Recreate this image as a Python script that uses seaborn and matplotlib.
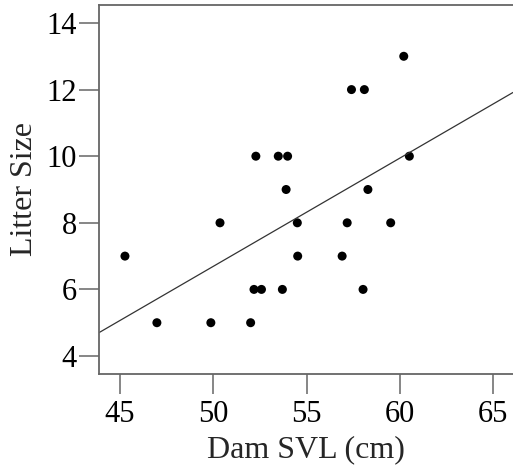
import matplotlib
matplotlib.use("Agg")
import matplotlib.pyplot as plt
import seaborn as sns
import pandas as pd

dam_svl = [45.27, 46.98, 49.87, 50.36, 52.0, 52.18, 52.28, 52.58, 53.48, 53.7,
           53.9, 53.98, 54.5, 54.52, 56.9, 57.17, 57.4, 58.02, 58.09, 58.28,
           59.5, 60.2, 60.5]
litter_size = [7, 5, 5, 8, 5, 6, 10, 6, 10, 6,
               9, 10, 8, 7, 7, 8, 12, 6, 12, 9,
               8, 13, 10]
x_ticks = [45, 50, 55, 60, 65]
y_ticks = [4, 6, 8, 10, 12, 14]

df = pd.DataFrame({"Dam SVL (cm)": dam_svl, "Litter Size": litter_size})

sns.set_style("white")
plt.rcParams["font.family"] = ["Liberation Serif", "DejaVu Serif"]

fig = plt.figure(figsize=(5.13, 4.71), dpi=100)
ax = fig.add_axes([99 / 513, 97 / 471, 414 / 513, 369 / 471])
ax.set_xlim(43.88, 66.05)
ax.set_ylim(3.46, 14.54)

sns.regplot(data=df, x="Dam SVL (cm)", y="Litter Size", ax=ax, ci=None,
            truncate=False,
            scatter_kws=dict(s=42, color="black", edgecolor="none", alpha=1),
            line_kws=dict(color="#333333", linewidth=0.9))

ax.set_xlim(43.88, 66.05)
ax.set_ylim(3.46, 14.54)
ax.set_xticks(x_ticks)
ax.set_yticks(y_ticks)

spine_col = "#666666"
for side in ["left", "bottom", "top"]:
    ax.spines[side].set_visible(True)
    ax.spines[side].set_color(spine_col)
    ax.spines[side].set_linewidth(1.3)
ax.spines["right"].set_visible(False)

ax.tick_params(axis="both", direction="out", length=14.5, width=1.1,
               color=spine_col, labelsize=22, labelcolor="black")
ax.tick_params(axis="y", pad=1.5, left=True)
ax.tick_params(axis="x", pad=4, bottom=True)

ax.set_xlabel("Dam SVL (cm)", fontsize=23, labelpad=5)
ax.set_ylabel("Litter Size", fontsize=23, labelpad=5)

fig.savefig("out.png", dpi=100)
